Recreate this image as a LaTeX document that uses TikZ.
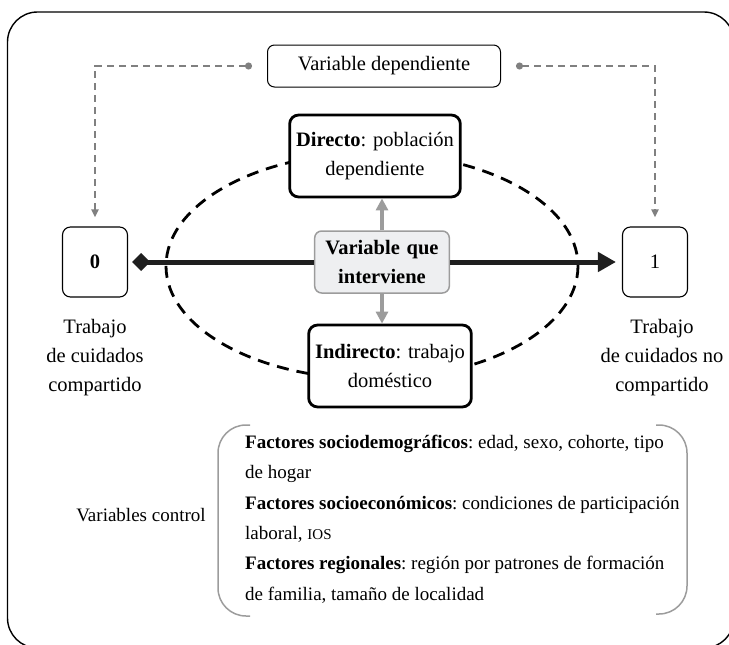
\documentclass[tikz,border=0pt]{standalone}
\usepackage{fontspec}
\setmainfont{Liberation Serif}
\usepackage{xcolor}
\usetikzlibrary{arrows.meta, positioning, calc}
\definecolor{linegrey}{HTML}{808080}
\definecolor{boxgrey}{HTML}{9C9C9C}
\definecolor{fillgrey}{HTML}{EEEFF1}
\frenchspacing

\begin{document}
\begin{tikzpicture}[x=1pt, y=-1pt,
        every node/.style={font=\fontsize{20.5}{29}\selectfont},
        depbox/.style={rectangle, rounded corners=7pt, draw=black, line width=1pt, minimum width=233pt, minimum height=42pt},
        effbox/.style={rectangle, rounded corners=9pt, draw=black, fill=white, line width=2.8pt, align=center, minimum height=82pt},
        midbox/.style={rectangle, rounded corners=7pt, draw=boxgrey, fill=fillgrey, line width=1.5pt, align=center, text width=128pt, minimum height=62pt, font=\fontsize{20.5}{29}\selectfont\bfseries},
        valbox/.style={rectangle, rounded corners=8pt, draw=black, line width=1.1pt, minimum width=65pt, minimum height=70pt},
        txtnode/.style={align=center},
        mainline/.style={line width=5pt, color=black!88},
        greyarrow/.style={-{Triangle[length=12pt, width=12pt]}, line width=3.2pt, color=boxgrey},
        dasharrow/.style={{Circle[length=7pt]}-{Triangle[length=8pt, width=7pt]}, line width=1.9pt, color=linegrey, dash pattern=on 7pt off 5pt}
    ]
        \useasboundingbox (0,0) rectangle (729,645);
        % Outer frame
        \begin{scope}
            \clip (0,0) rectangle (729,645);
            \draw[line width=1.4pt, rounded corners=30pt] (7.5,12) rectangle (734,648);
        \end{scope}

        % Dashed ellipse
        \draw[line width=2.8pt, dash pattern=on 12pt off 8pt] (372,266) ellipse [x radius=206, y radius=113];

        % Top and centre
        \node[depbox] (dep) at (384,66) {Variable dependiente};
        \node[effbox, text width=164pt] (dir) at (375,156) {\textbf{Directo}: población\\ dependiente};
        \node[midbox] (mid) at (382,262) {Variable que\\ interviene};
        \node[effbox, text width=156pt] (ind) at (390,366) {\textbf{Indirecto}: trabajo\\ doméstico};

        % Left and right values
        \node[valbox] (zero) at (95,262) {\textbf{0}};
        \node[valbox] (one) at (655,262) {1};
        \node[txtnode] (shared) at (95,358) {Trabajo\\ de cuidados\\ compartido};
        \node[txtnode] (notshared) at (662,358) {Trabajo\\ de cuidados no\\ compartido};

        % Control variables
        \node[font=\fontsize{19}{29}\selectfont] (ctrllabel) at (141,515) {Variables control};
        \node[align=left, anchor=west, inner sep=0pt, font=\fontsize{19}{30.4}\selectfont] (ctrl) at (245,519)
            {\textbf{Factores sociodemográficos}: edad, sexo, cohorte, tipo\\
             de hogar\\
             \textbf{Factores socioeconómicos}: condiciones de participación\\
             laboral, {\fontsize{15}{15}\selectfont IOS}\\
             \textbf{Factores regionales}: región por patrones de formación\\
             de familia, tamaño de localidad};
        \draw[boxgrey, line width=1.5pt, rounded corners=28pt] (250,425) -- (218,425) -- (218,616) -- (250,616);
        \draw[boxgrey, line width=1.5pt, rounded corners=28pt] (656,425) -- (687,425) -- (687,614) -- (656,614);

        % Connectors
        \draw[mainline, {Diamond[length=18pt, width=18pt]}-, shorten <=4pt] (zero.east) -- (mid.west);
        \draw[mainline, -{Triangle[length=18pt, width=19pt]}, shorten >=6pt] (mid.east) -- (one.west);
        \draw[greyarrow] (mid.north) -- (mid.north |- dir.south);
        \draw[greyarrow] (mid.south) -- (mid.south |- ind.north);
        \draw[dasharrow, shorten >=9pt] ([xshift=-15pt]dep.west) -| (zero.north);
        \draw[dasharrow, shorten >=9pt] ([xshift=15pt]dep.east) -| (one.north);
    \end{tikzpicture}
\end{document}
